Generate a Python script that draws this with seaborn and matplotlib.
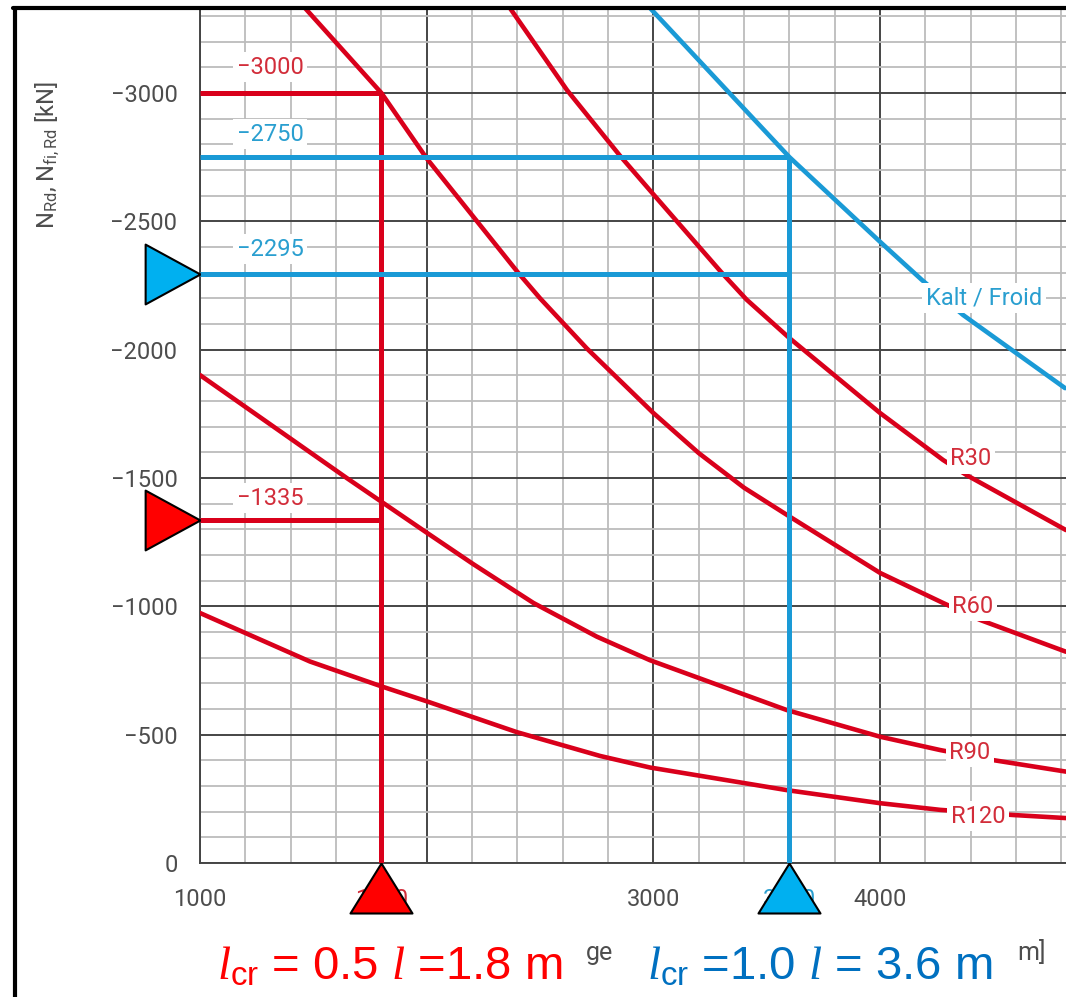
import numpy as np
import pandas as pd
import matplotlib
matplotlib.use("Agg")
import matplotlib.pyplot as plt
import seaborn as sns
from matplotlib.ticker import MultipleLocator, FixedLocator
from matplotlib.lines import Line2D

# ---------------- data ----------------
kalt_x = [2985, 3206, 3426, 3600, 4000, 4185, 4366, 4816]
kalt_y = [-3331, -3122, -2914, -2750, -2420, -2271, -2135, -1850]

r30_x = [2367, 2619, 2853, 3000, 3301, 3411, 3600, 4000, 4278, 4382, 4820]
r30_y = [-3331, -3011, -2755, -2605, -2300, -2195, -2045, -1753, -1570, -1511, -1297]

r60_x = [1463, 1800, 2000, 2403, 2500, 2706, 3000, 3200, 3400, 3600, 4000, 4278, 4441, 4820]
r60_y = [-3331, -3000, -2745, -2300, -2200, -2005, -1753, -1597, -1462, -1350, -1130, -1013, -947, -823]

r90_x = [1000, 1647, 1801, 2000, 2206, 2471, 2750, 2985, 3588, 4000, 4265, 4498, 4820]
r90_y = [-1901, -1500, -1407, -1287, -1164, -1013, -882, -790, -596, -492, -440, -401, -356]

r120_x = [1000, 1485, 1801, 2000, 2397, 2765, 2985, 3588, 4000, 4265, 4587, 4820]
r120_y = [-974, -785, -688, -630, -510, -417, -372, -284, -233, -207, -187, -175]

curve_names = ["Kalt / Froid", "R30", "R60", "R90", "R120"]

# design points
red_length = 1800
red_values = [-3000, -1335]
blue_length = 3600
blue_values = [-2750, -2295]

xtick_values = [1000, 1800, 3000, 3600, 4000]
xtick_labels = ["1000", "1800", "3000", "3600", "4000"]
ytick_values = [-3000, -2500, -2000, -1500, -1000, -500, 0]

red_text = r"$\mathit{l}_{\mathrm{cr}}$ = 0.5 $\mathit{l}$ =1.8 m"
blue_text = r"$\mathit{l}_{\mathrm{cr}}$ =1.0 $\mathit{l}$ = 3.6 m"
ylabel_text = r"N$_{\mathregular{Rd}}$, N$_{\mathregular{fi,Rd}}$ [kN]"

# ---------------- styles / layout ----------------
RED = "#d9001b"
BLUE = "#1a9ad6"
RED_TXT = "#d22d3a"
BLUE_TXT = "#2a9fd0"
GRAY_TXT = "#4d4d4d"
TRI_RED = "#ff0000"
TRI_BLUE = "#00b0f0"

curve_label_pos = {"Kalt / Froid": (4458, -2201), "R30": (4401, -1574),
                   "R60": (4410, -1001), "R90": (4397, -432), "R120": (4432, -183)}
value_label_x = 1310
value_label_y = {-3000: -3100, -2750: -2840, -2295: -2392, -1335: -1422}

sns.set_style("white")
plt.rcParams["font.family"] = ["Roboto", "DejaVu Sans"]
plt.rcParams["mathtext.fontset"] = "custom"
plt.rcParams["mathtext.it"] = "Liberation Serif:italic"
plt.rcParams["mathtext.rm"] = "Liberation Sans"

W, H = 1066, 997
fig = plt.figure(figsize=(W / 100, H / 100), dpi=100)
fig.patch.set_facecolor("white")
ax = fig.add_axes([200 / W, 134 / H, 866 / W, 855 / H])

# curves through seaborn
frames = []
for name, xs, ys in zip(curve_names, [kalt_x, r30_x, r60_x, r90_x, r120_x],
                        [kalt_y, r30_y, r60_y, r90_y, r120_y]):
    frames.append(pd.DataFrame({"L": xs, "N": ys, "curve": name}))
df = pd.concat(frames, ignore_index=True)
palette = {"Kalt / Froid": BLUE, "R30": RED, "R60": RED, "R90": RED, "R120": RED}
sns.lineplot(data=df, x="L", y="N", hue="curve", palette=palette, estimator=None,
             sort=False, lw=3.3, legend=False, ax=ax, zorder=3)
for ln in ax.lines:
    ln.set_solid_joinstyle("round")

ax.set_xlim(1000, 4820)
ax.set_ylim(0, -3331)

# grid
ax.xaxis.set_major_locator(MultipleLocator(1000))
ax.xaxis.set_minor_locator(MultipleLocator(200))
ax.yaxis.set_major_locator(FixedLocator(ytick_values))
ax.yaxis.set_minor_locator(MultipleLocator(100))
ax.grid(which="minor", color="#bcbcbc", lw=1.3)
ax.grid(which="major", color="#454545", lw=1.4)
ax.set_axisbelow(True)
for s in ["top", "right"]:
    ax.spines[s].set_visible(False)
for s in ["left", "bottom"]:
    ax.spines[s].set_color("#454545")
    ax.spines[s].set_linewidth(1.4)

ax.tick_params(axis="x", which="both", length=0, labelbottom=False)
ax.tick_params(axis="y", which="minor", length=0)
ax.tick_params(axis="y", which="major", length=7.2, width=1.4, color="#454545",
               pad=9, labelsize=17, labelcolor=GRAY_TXT)
ax.set_xlabel("")
ax.set_ylabel("")

sec = ax.secondary_xaxis("bottom")
sec.set_xticks(xtick_values)
sec.set_xticklabels(xtick_labels)
sec.tick_params(length=0, pad=18, labelsize=17, labelcolor=GRAY_TXT)
sec.spines["bottom"].set_visible(False)
for lab, v in zip(sec.get_xticklabels(), xtick_values):
    if v == red_length:
        lab.set_color(RED_TXT)
    elif v == blue_length:
        lab.set_color(BLUE_TXT)

# design guide lines
x0 = ax.get_xlim()[0]
for v in red_values:
    ax.plot([x0, red_length], [v, v], color=RED, lw=3.6, solid_capstyle="butt", zorder=4)
ax.plot([red_length, red_length], [0, min(red_values)], color=RED, lw=3.6,
        solid_capstyle="butt", zorder=4)
for v in blue_values:
    ax.plot([x0, blue_length], [v, v], color=BLUE, lw=3.6, solid_capstyle="butt", zorder=4)
ax.plot([blue_length, blue_length], [0, min(blue_values)], color=BLUE, lw=3.6,
        solid_capstyle="butt", zorder=4)

box = dict(facecolor="white", edgecolor="none", pad=2.5)
for v in red_values:
    ax.text(value_label_x, value_label_y[v], f"\u2212{abs(v)}", color=RED_TXT, fontsize=17,
            ha="center", va="center", bbox=box, zorder=6)
for v in blue_values:
    ax.text(value_label_x, value_label_y[v], f"\u2212{abs(v)}", color=BLUE_TXT, fontsize=17,
            ha="center", va="center", bbox=box, zorder=6)
for name in curve_names:
    cx, cy = curve_label_pos[name]
    ax.text(cx, cy, name, color=BLUE_TXT if name.startswith("Kalt") else RED_TXT,
            fontsize=17, ha="center", va="center", bbox=box, zorder=6)

# triangle markers pointing at the design values
tri_right = [(0, 0), (-1, 0.545), (-1, -0.545), (0, 0)]
tri_up = [(0, 0), (0.62, -1), (-0.62, -1), (0, 0)]
ax.plot([x0], [blue_values[1]], marker=tri_right, ms=79, mfc=TRI_BLUE, mec="black",
        mew=1.5, ls="none", clip_on=False, zorder=10)
ax.plot([x0], [red_values[1]], marker=tri_right, ms=79, mfc=TRI_RED, mec="black",
        mew=1.5, ls="none", clip_on=False, zorder=10)
ax.plot([red_length], [0], marker=tri_up, ms=72, mfc=TRI_RED, mec="black",
        mew=1.5, ls="none", clip_on=False, zorder=10)
ax.plot([blue_length], [0], marker=tri_up, ms=72, mfc=TRI_BLUE, mec="black",
        mew=1.5, ls="none", clip_on=False, zorder=10)

# y label
fig.text(47 / W, 1 - 155 / H, ylabel_text, rotation=90, ha="center", va="center",
         fontsize=17, color=GRAY_TXT)

# visible fragments of the covered x-axis title
fig.text(586 / W, 1 - 960 / H, "ge", fontsize=18, color=GRAY_TXT, ha="left", va="baseline")
fig.text(1017 / W, 1 - 960 / H, "m]", fontsize=18, color=GRAY_TXT, ha="left", va="baseline")

# big overlay texts
fig.text(217 / W, 1 - 980 / H, red_text, fontsize=34, color="#ff0000",
         family="Liberation Sans", ha="left", va="baseline")
fig.text(647 / W, 1 - 980 / H, blue_text, fontsize=34, color="#0070c0",
         family="Liberation Sans", ha="left", va="baseline")

# figure frame (left and top edges visible)
fig.add_artist(Line2D([14.5 / W, 14.5 / W], [0, 1 - 8 / H], transform=fig.transFigure,
                      color="black", lw=3))
fig.add_artist(Line2D([13 / W, 1], [1 - 8 / H, 1 - 8 / H], transform=fig.transFigure,
                      color="black", lw=3))

fig.savefig("out.png", dpi=100, facecolor="white")
